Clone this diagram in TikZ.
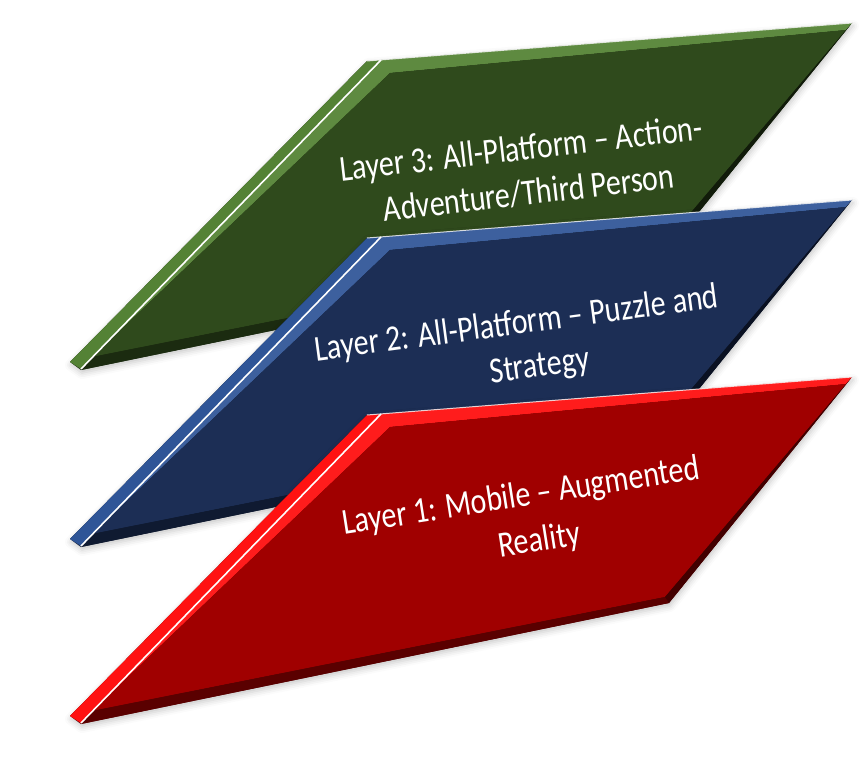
\documentclass[tikz,border=0pt]{standalone}
\usepackage{fontspec}
\setmainfont{Carlito}
\usetikzlibrary{shadows.blur}

% layer palettes: side, bevel, face, bottom, right edge
\definecolor{rSide}{HTML}{FF1212}
\definecolor{rBevel}{HTML}{FF1C1C}
\definecolor{rFace}{HTML}{A00000}
\definecolor{rBottom}{HTML}{5A0000}
\definecolor{rEdge}{HTML}{420000}

\definecolor{bSide}{HTML}{2F5597}
\definecolor{bBevel}{HTML}{3D609E}
\definecolor{bFace}{HTML}{1C2E55}
\definecolor{bBottom}{HTML}{0F1A31}
\definecolor{bEdge}{HTML}{0A1122}

\definecolor{gSide}{HTML}{548235}
\definecolor{gBevel}{HTML}{5E8A40}
\definecolor{gFace}{HTML}{2F4A1C}
\definecolor{gBottom}{HTML}{1B2B10}
\definecolor{gEdge}{HTML}{111B0A}

\tikzset{
  slabshadow/.style={blur shadow={shadow xshift=1pt, shadow yshift=-3pt,
      shadow blur radius=6pt, shadow opacity=22}},
  rim/.style={white, line width=1.6pt},
  toprim/.style={white, line width=1pt, opacity=.8},
  layertext/.style={text=white, inner sep=0pt, anchor=base,
      font=\fontsize{30}{35}\selectfont},
}

% tall lettering of the tilted labels
\newcommand\tall[1]{\scalebox{1}[1.22]{#1}}

% one tilted slab; #1 vertical offset, #2..#6 colours
\newcommand\drawslab[6]{%
  \begin{scope}[shift={(0,#1)}]
    \fill[#5, slabshadow] (367,415) -- (852,377) -- (669,603) -- (81,724) -- (70,716) -- cycle;
    \fill[#2] (367,415) -- (381,414) -- (81,723) -- (70,716) -- cycle;
    \fill[#3] (381,414) -- (852,377) -- (846,384) -- (390,427) -- (92,711) -- (81,723) -- cycle;
    \fill[#4] (390,427) -- (846,384) -- (665,597) -- (92,711) -- cycle;
    \fill[#5] (92,711) -- (665,597) -- (669,603) -- (81,724) -- cycle;
    \fill[#6] (846,384) -- (852,377) -- (669,603) -- (665,597) -- cycle;
    \draw[toprim] (367,415) -- (852,377);
    \draw[rim] (381,414) -- (81,723);
  \end{scope}}

\begin{document}
\begin{tikzpicture}[x=1pt, y=-1pt]
  \useasboundingbox (0,0) rectangle (863,762);

  \drawslab{-354}{gSide}{gBevel}{gFace}{gBottom}{gEdge}
  \drawslab{-177}{bSide}{bBevel}{bFace}{bBottom}{bEdge}
  \drawslab{0}{rSide}{rBevel}{rFace}{rBottom}{rEdge}

  % labels, one node per line, placed at the centre of each baseline
  \node[layertext, rotate=6.6] (layer3a) at (522.5,160.3)
    {\tall{Layer 3: All-Platform \textendash{} Action-}};
  \node[layertext, rotate=6.6] (layer3b) at (530,204.7)
    {\tall{Adventure/Third Person}};
  \node[layertext, rotate=7.6] (layer2a) at (518,334.2)
    {\tall{Layer 2: All-Platform \textendash{} Puzzle and}};
  \node[layertext, rotate=7.6] (layer2b) at (541,376.5)
    {\tall{Strategy}};
  \node[layertext, rotate=8.9] (layer1a) at (522.5,506.6)
    {\tall{Layer 1: Mobile \textendash{} Augmented}};
  \node[layertext, rotate=8.9] (layer1b) at (541,551)
    {\tall{Reality}};
\end{tikzpicture}
\end{document}
